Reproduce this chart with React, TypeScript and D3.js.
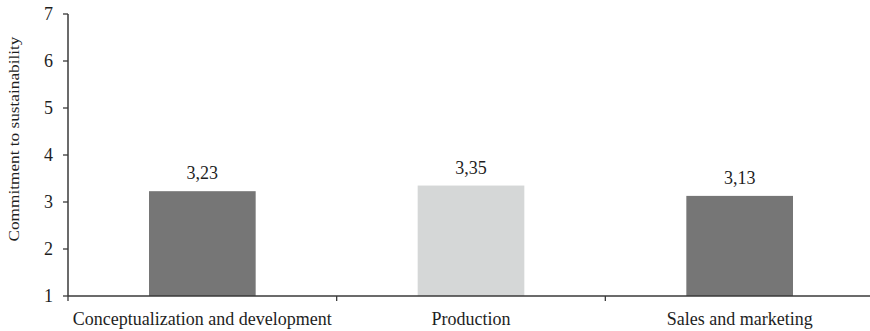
import React from "react";
import * as d3 from "d3";

const categories = ["Conceptualization and development", "Production", "Sales and marketing"];
const values = [3.23, 3.35, 3.13];
const valueLabels = ["3,23", "3,35", "3,13"];
const barColors = ["#767676", "#d5d7d7", "#767676"];
const yTicks = [1, 2, 3, 4, 5, 6, 7];

const W = 870;
const H = 331;
const left = 68;
const right = 874;
const top = 14;
const bottom = 296;

export default function App() {
  const x = d3.scaleBand<string>().domain(categories).range([left, right]).paddingInner(0).paddingOuter(0);
  const y = d3.scaleLinear().domain([1, 7]).range([bottom, top]);
  const barW = x.bandwidth() * 0.397;
  const font = "'Liberation Serif', 'Times New Roman', serif";
  const axisColor = "#3a3a3a";
  const textColor = "#1e1e1e";

  const boundaries = categories.map((c) => x(c) as number);

  return (
    <svg width={W} height={H} style={{ position: "absolute", left: 0, top: 0, background: "#fff" }}>
      {categories.map((c, i) => {
        const cx = (x(c) as number) + x.bandwidth() / 2;
        return (
          <g key={c}>
            <rect x={cx - barW / 2} y={y(values[i])} width={barW} height={y(1) - y(values[i])} fill={barColors[i]} />
            <text x={cx} y={y(values[i]) - 12} textAnchor="middle" fontFamily={font} fontSize={18} fill={textColor}>
              {valueLabels[i]}
            </text>
            <text x={cx} y={325} textAnchor="middle" fontFamily={font} fontSize={18} fill={textColor}>
              {c}
            </text>
          </g>
        );
      })}
      {/* y axis */}
      <line x1={left} x2={left} y1={y(7)} y2={y(1)} stroke={axisColor} strokeWidth={1.5} />
      {yTicks.map((t) => (
        <g key={t}>
          <line x1={left - 5} x2={left} y1={y(t)} y2={y(t)} stroke={axisColor} strokeWidth={1.3} />
          <text x={53} y={y(t) + 6} textAnchor="end" fontFamily={font} fontSize={18} fill={textColor}>
            {t}
          </text>
        </g>
      ))}
      {/* x axis */}
      <line x1={left} x2={W} y1={y(1)} y2={y(1)} stroke={axisColor} strokeWidth={1.5} />
      {boundaries.map((b, i) => (
        <line key={i} x1={b} x2={b} y1={y(1)} y2={y(1) + 5} stroke={axisColor} strokeWidth={1.3} />
      ))}
      <text
        transform={`translate(19,139) rotate(-90)`}
        textAnchor="middle"
        fontFamily={font}
        fontSize={14}
        fill={textColor}
        textLength={205}
        lengthAdjust="spacingAndGlyphs"
      >
        Commitment to sustainability
      </text>
    </svg>
  );
}
